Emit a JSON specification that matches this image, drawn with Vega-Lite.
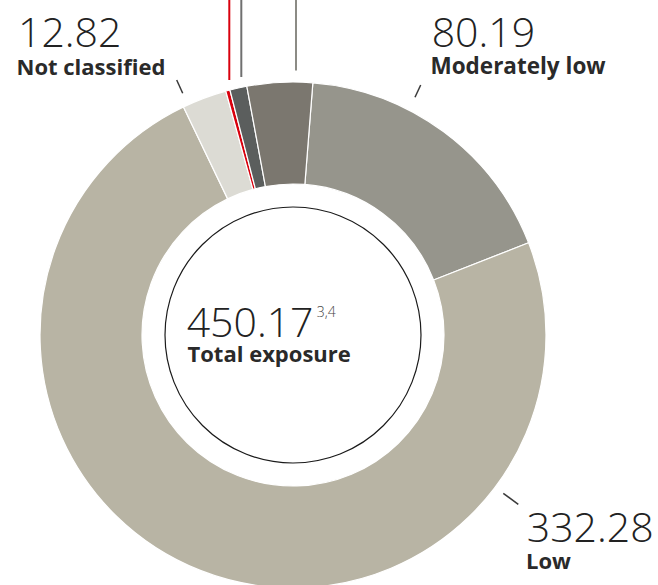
{
  "$schema": "https://vega.github.io/schema/vega-lite/v6.json",
  "autosize": {"type": "none"},
  "width": 586,
  "height": 500,
  "padding": {"left": 0, "top": 85, "right": 72, "bottom": 0},
  "background": "white",
  "config": {"view": {"stroke": null}, "text": {"font": "Open Sans"}},
  "data": {
    "values": [
      {"category": "Moderately low", "value": 80.19, "rank": 1},
      {"category": "Low", "value": 332.28, "rank": 2},
      {"category": "Not classified", "value": 12.82, "rank": 3},
      {"category": "High", "value": 1.2, "rank": 4},
      {"category": "Elevated", "value": 4.9, "rank": 5},
      {"category": "Moderate", "value": 18.78, "rank": 6}
    ]
  },
  "layer": [
    {
      "mark": {"type": "arc", "outerRadius": 253, "innerRadius": 151, "stroke": "white", "strokeWidth": 1.2},
      "encoding": {
        "theta": {"field": "value", "type": "quantitative", "stack": true, "scale": {"range": [0.07854, 6.36173]}},
        "order": {"field": "rank", "type": "quantitative"},
        "color": {
          "field": "category", "type": "nominal", "legend": null,
          "scale": {
            "domain": ["Moderately low", "Low", "Not classified", "High", "Elevated", "Moderate"],
            "range": ["#96958c", "#b8b4a4", "#dcdbd4", "#d9000d", "#5b5e5d", "#7b776f"]
          }
        }
      }
    },
    {
      "mark": {"type": "text", "radius": 290, "align": "left", "baseline": "alphabetic", "fontSize": 41, "fontWeight": 300, "color": "#222222", "dx": -173.3, "dy": -16.4},
      "encoding": {
        "theta": {"field": "value", "type": "quantitative", "stack": true},
        "order": {"field": "rank", "type": "quantitative"},
        "text": {"condition": {"test": "datum.category === 'Not classified'", "field": "value", "type": "quantitative", "format": ".2f"}, "value": ""}
      }
    },
    {
      "mark": {"type": "text", "radius": 290, "align": "left", "baseline": "alphabetic", "fontSize": 22, "fontWeight": "bold", "color": "#2a2a2a", "dx": -174.8, "dy": 11.1},
      "encoding": {
        "theta": {"field": "value", "type": "quantitative", "stack": true},
        "order": {"field": "rank", "type": "quantitative"},
        "text": {"condition": {"test": "datum.category === 'Not classified'", "field": "category", "type": "nominal"}, "value": ""}
      }
    },
    {
      "mark": {"type": "text", "radius": 290, "align": "left", "baseline": "alphabetic", "fontSize": 41, "fontWeight": 300, "color": "#222222", "dx": -34.1, "dy": -55.1},
      "encoding": {
        "theta": {"field": "value", "type": "quantitative", "stack": true},
        "order": {"field": "rank", "type": "quantitative"},
        "text": {"condition": {"test": "datum.category === 'Moderately low'", "field": "value", "type": "quantitative", "format": ".2f"}, "value": ""}
      }
    },
    {
      "mark": {"type": "text", "radius": 290, "align": "left", "baseline": "alphabetic", "fontSize": 22.5, "fontWeight": "bold", "color": "#2a2a2a", "dx": -35.3, "dy": -27.6},
      "encoding": {
        "theta": {"field": "value", "type": "quantitative", "stack": true},
        "order": {"field": "rank", "type": "quantitative"},
        "text": {"condition": {"test": "datum.category === 'Moderately low'", "field": "category", "type": "nominal"}, "value": ""}
      }
    },
    {
      "mark": {"type": "text", "radius": 290, "align": "left", "baseline": "alphabetic", "fontSize": 41, "fontWeight": 300, "color": "#222222", "dx": 340, "dy": -63.1},
      "encoding": {
        "theta": {"field": "value", "type": "quantitative", "stack": true},
        "order": {"field": "rank", "type": "quantitative"},
        "text": {"condition": {"test": "datum.category === 'Low'", "field": "value", "type": "quantitative", "format": ".2f"}, "value": ""}
      }
    },
    {
      "mark": {"type": "text", "radius": 290, "align": "left", "baseline": "alphabetic", "fontSize": 22, "fontWeight": "bold", "color": "#2a2a2a", "dx": 339.3, "dy": -35.5},
      "encoding": {
        "theta": {"field": "value", "type": "quantitative", "stack": true},
        "order": {"field": "rank", "type": "quantitative"},
        "text": {"condition": {"test": "datum.category === 'Low'", "field": "category", "type": "nominal"}, "value": ""}
      }
    },
    {
      "data": {"values": [{"label": "Total exposure", "total": 450.17, "note": "3,4"}]},
      "layer": [
        {
          "mark": {"type": "arc", "theta": 0, "theta2": 6.2832, "outerRadius": 128, "innerRadius": 0, "fill": "white", "stroke": "#1a1a1a", "strokeWidth": 1.2},
          "encoding": {}
        },
        {
          "mark": {"type": "text", "align": "left", "baseline": "alphabetic", "fontSize": 41, "fontWeight": 300, "color": "#222222", "dx": -106.3, "dy": 1.7},
          "encoding": {"text": {"field": "total", "type": "quantitative", "format": ".2f"}}
        },
        {
          "mark": {"type": "text", "align": "left", "baseline": "alphabetic", "fontSize": 14, "fontWeight": 300, "color": "#444444", "dx": 23.7, "dy": -18},
          "encoding": {"text": {"field": "note", "type": "nominal"}}
        },
        {
          "mark": {"type": "text", "align": "left", "baseline": "alphabetic", "fontSize": 22, "fontWeight": "bold", "color": "#2a2a2a", "dx": -105.5, "dy": 27},
          "encoding": {"text": {"field": "label", "type": "nominal"}}
        }
      ]
    },
    {
      "data": {"values": [{"category": "Not classified"}]},
      "mark": {"type": "rule", "stroke": "#3a3a3a", "strokeWidth": 1.5},
      "encoding": {
        "x": {"value": {"expr": "width/2 - 116.3"}}, "y": {"value": {"expr": "height/2 - 255"}},
        "x2": {"value": {"expr": "width/2 - 110.3"}}, "y2": {"value": {"expr": "height/2 - 241.7"}}
      }
    },
    {
      "data": {"values": [{"category": "Moderately low"}]},
      "mark": {"type": "rule", "stroke": "#3a3a3a", "strokeWidth": 1.5},
      "encoding": {
        "x": {"value": {"expr": "width/2 + 122"}}, "y": {"value": {"expr": "height/2 - 237.7"}},
        "x2": {"value": {"expr": "width/2 + 127.7"}}, "y2": {"value": {"expr": "height/2 - 250"}}
      }
    },
    {
      "data": {"values": [{"category": "Low"}]},
      "mark": {"type": "rule", "stroke": "#3a3a3a", "strokeWidth": 1.5},
      "encoding": {
        "x": {"value": {"expr": "width/2 + 210.3"}}, "y": {"value": {"expr": "height/2 + 158.3"}},
        "x2": {"value": {"expr": "width/2 + 225.3"}}, "y2": {"value": {"expr": "height/2 + 169.3"}}
      }
    },
    {
      "data": {"values": [{"category": "High"}]},
      "mark": {"type": "rule", "stroke": "#d9000d", "strokeWidth": 2},
      "encoding": {
        "x": {"value": {"expr": "width/2 - 63.7"}}, "y": {"value": {"expr": "height/2 - 335"}},
        "y2": {"value": {"expr": "height/2 - 255"}}
      }
    },
    {
      "data": {"values": [{"category": "Elevated"}]},
      "mark": {"type": "rule", "stroke": "#707070", "strokeWidth": 2},
      "encoding": {
        "x": {"value": {"expr": "width/2 - 51.7"}}, "y": {"value": {"expr": "height/2 - 335"}},
        "y2": {"value": {"expr": "height/2 - 258"}}
      }
    },
    {
      "data": {"values": [{"category": "Moderate"}]},
      "mark": {"type": "rule", "stroke": "#8c8b85", "strokeWidth": 2},
      "encoding": {
        "x": {"value": {"expr": "width/2 + 3"}}, "y": {"value": {"expr": "height/2 - 335"}},
        "y2": {"value": {"expr": "height/2 - 264.5"}}
      }
    }
  ]
}
